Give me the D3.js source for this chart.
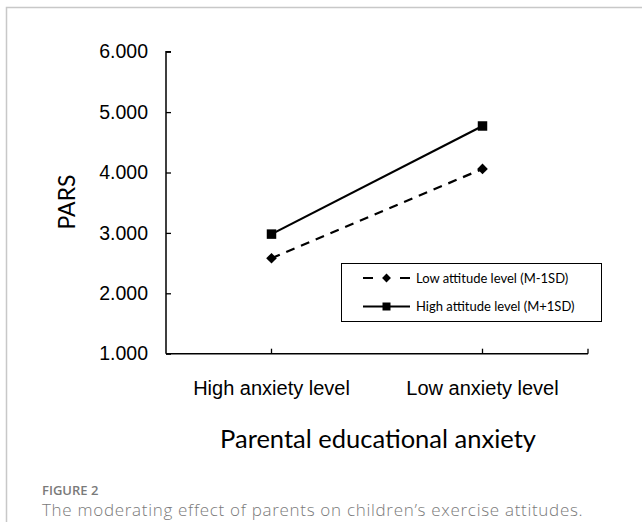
<!DOCTYPE html>
<html>
<head>
<meta charset="utf-8">
<script src="https://cdn.jsdelivr.net/npm/d3@7"></script>
<style>
  body { margin: 0; background: #fff; }
</style>
</head>
<body>
<div id="chart"></div>
<script>
//data
const categories = ["High anxiety level", "Low anxiety level"];
const seriesNames = ["Low attitude level (M-1SD)", "High attitude level (M+1SD)"];
const lowAttitude = [2.58, 4.06];
const highAttitude = [2.98, 4.77];
const yTicks = [1, 2, 3, 4, 5, 6];

//svg size
const width = 642;
const height = 522;

//plot area
const plot = { left: 166, right: 588, top: 51.7, bottom: 353.7 };

const svg = d3.select("#chart")
    .append("svg")
    .attr("width", width)
    .attr("height", height);

//frame (top + left only)
svg.append("path")
    .attr("d", `M6.5,${height}V7.5H${width}`)
    .attr("fill", "none")
    .attr("stroke", "#c8c8c8")
    .attr("stroke-width", 1.5);

const x = d3.scaleBand()
    .domain(categories)
    .range([plot.left, plot.right]);

const y = d3.scaleLinear()
    .domain([1, 6])
    .range([plot.bottom, plot.top]);

const cx = (d) => x(d) + x.bandwidth() / 2;

//y axis
const yAxis = svg.append("g")
    .attr("transform", `translate(${plot.left},0)`)
    .call(d3.axisRight(y).tickValues(yTicks).tickSize(5).tickFormat(d3.format(".3f")));
yAxis.select(".domain").attr("d", `M5,${plot.top}H0V${plot.bottom}`).attr("stroke-width", 1.5);
yAxis.selectAll(".tick line").attr("stroke-width", 1.3);
yAxis.selectAll(".tick text")
    .attr("x", -18)
    .attr("text-anchor", "end")
    .attr("font-family", "'Liberation Sans', Arial, sans-serif")
    .attr("font-size", 19.5)
    .attr("fill", "#000");

//x axis: ticks at the category centres and the right end
const xAxis = svg.append("g")
    .attr("transform", `translate(0,${plot.bottom})`);
xAxis.append("line")
    .attr("x1", plot.left).attr("x2", plot.right)
    .attr("stroke", "#000").attr("stroke-width", 1.5);
xAxis.selectAll("line.tick")
    .data(categories.map(cx).concat([plot.right]))
    .join("line")
    .attr("class", "tick")
    .attr("x1", (d) => d).attr("x2", (d) => d)
    .attr("y1", 0).attr("y2", -5)
    .attr("stroke", "#000").attr("stroke-width", 1.3);
xAxis.selectAll("text")
    .data(categories)
    .join("text")
    .attr("x", cx)
    .attr("y", 41)
    .attr("text-anchor", "middle")
    .attr("font-family", "'Liberation Sans', Arial, sans-serif")
    .attr("font-size", 20)
    .text((d) => d);

//axis titles
svg.append("text")
    .attr("transform", `translate(75,202) rotate(-90)`)
    .attr("text-anchor", "middle")
    .attr("font-family", "Lato, 'Open Sans', sans-serif")
    .attr("font-size", 23)
    .text("PARS");

svg.append("text")
    .attr("x", 378)
    .attr("y", 448)
    .attr("text-anchor", "middle")
    .attr("font-family", "Lato, 'Open Sans', sans-serif")
    .attr("font-size", 25.5)
    .text("Parental educational anxiety");

//lines
const series = [
  { name: seriesNames[0], values: lowAttitude, dash: "9,7", legendDash: "10,27", marker: "diamond" },
  { name: seriesNames[1], values: highAttitude, dash: null, legendDash: null, marker: "square" },
];

const line = d3.line()
    .x((d, i) => cx(categories[i]))
    .y((d) => y(d));

const symbolOf = (m) => m === "square"
    ? d3.symbol(d3.symbolSquare, 90)
    : d3.symbol(d3.symbolDiamond2, 72);

series.forEach((s) => {
  svg.append("path")
      .attr("d", line(s.values))
      .attr("fill", "none")
      .attr("stroke", "#000")
      .attr("stroke-width", 2.2)
      .attr("stroke-dasharray", s.dash);

  svg.selectAll(null)
      .data(s.values)
      .join("path")
      .attr("transform", (d, i) => `translate(${cx(categories[i])},${y(d)})`)
      .attr("d", symbolOf(s.marker))
      .attr("fill", "#000");
});

//legend
const legend = svg.append("g").attr("transform", "translate(341,263)");
legend.append("rect")
    .attr("x", 0.5).attr("y", 0.5)
    .attr("width", 260).attr("height", 58)
    .attr("fill", "#fff")
    .attr("stroke", "#000")
    .attr("stroke-width", 1);

series.forEach((s, i) => {
  const g = legend.append("g").attr("transform", `translate(0,${15 + i * 28.5})`);
  g.append("line")
      .attr("x1", 22).attr("x2", 69)
      .attr("stroke", "#000")
      .attr("stroke-width", 2.2)
      .attr("stroke-dasharray", s.legendDash);
  g.append("path")
      .attr("transform", "translate(45.5,0)")
      .attr("d", s.marker === "square" ? d3.symbol(d3.symbolSquare, 64)() : d3.symbol(d3.symbolDiamond2, 50)())
      .attr("fill", "#000");
  g.append("text")
      .attr("x", 75)
      .attr("dy", "0.35em")
      .attr("font-family", "Lato, 'Open Sans', sans-serif")
      .attr("font-size", 13)
      .text(s.name);
});

//caption
svg.append("text")
    .attr("x", 42)
    .attr("y", 495)
    .attr("font-family", "'Open Sans', sans-serif")
    .attr("font-weight", 600)
    .attr("font-size", 13)
    .attr("fill", "#7a7a7a")
    .text("FIGURE 2");

svg.append("text")
    .attr("x", 42)
    .attr("y", 516)
    .attr("font-family", "'Open Sans', sans-serif")
    .attr("font-weight", 300)
    .attr("font-size", 17)
    .attr("letter-spacing", 0.7)
    .attr("fill", "#7a7a7a")
    .text("The moderating effect of parents on children\u2019s exercise attitudes.");
</script>
</body>
</html>
